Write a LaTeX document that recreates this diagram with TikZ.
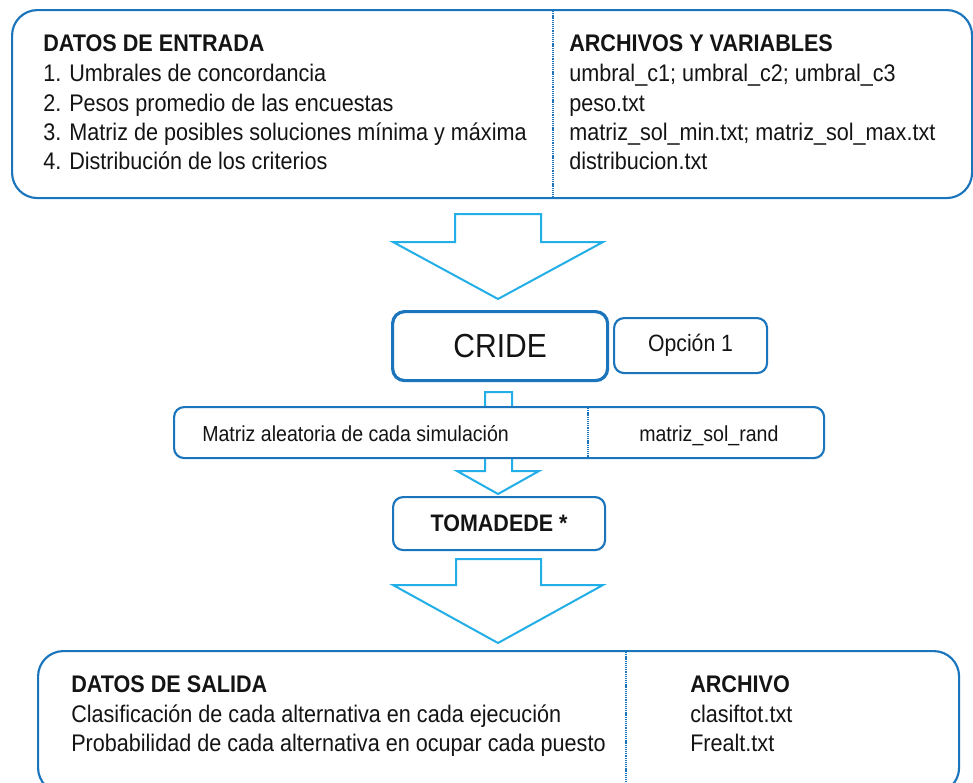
\documentclass[tikz,border=0pt]{standalone}
\usepackage{fontspec}
\setmainfont{Liberation Sans}[FakeStretch=0.9]
\definecolor{boxblue}{HTML}{1B75BC}
\definecolor{arrowcyan}{HTML}{22AEE6}
\definecolor{inkblack}{HTML}{141414}

\begin{document}
\begin{tikzpicture}[x=0.75pt,y=-0.75pt,
  panel/.style={draw=boxblue, line width=1.6pt, fill=white, rounded corners=#1,
    inner sep=0pt, anchor=north west, text=inkblack},
  panel/.default=7.5pt,
  divider/.style={draw=boxblue, line width=0.8pt, dash pattern=on 0.8pt off 0.6pt},
  blockarrow/.style={draw=arrowcyan, line width=1.5pt, fill=white, line join=miter},
  txt/.style={anchor=base west, inner sep=0pt, text=inkblack,
    font=\fontsize{18}{21}\selectfont},
  head/.style={txt, font=\fontsize{18}{21}\selectfont\bfseries},
  small/.style={txt, font=\fontsize{16.3}{19}\selectfont}]

\clip (0,0) rectangle (973,782);

% block arrows (drawn first so the boxes sit on top of them)
\draw[blockarrow] (455,214) -- (541,214) -- (541,242) -- (603,242) -- (498,299)
  -- (393,242) -- (455,242) -- cycle;
\draw[blockarrow] (485,392) -- (512,392) -- (512,471) -- (539,471) -- (498,494)
  -- (457,471) -- (485,471) -- cycle;
\draw[blockarrow] (456,559) -- (541,559) -- (541,585) -- (603,585) -- (498,643)
  -- (393,585) -- (456,585) -- cycle;

% input panel
\node[panel=19pt, minimum width=960*0.75pt, minimum height=188*0.75pt] (input) at (11,9) {};
\coordinate (inSplit) at (553,0);
\draw[divider] (input.north -| inSplit) -- (input.south -| inSplit);

\node[head] (inHead) at (43,51) {DATOS DE ENTRADA};
\node[txt] (inA) at (43,81) {1. Umbrales de concordancia};
\node[txt] (inB) at (43,111) {2. Pesos promedio de las encuestas};
\node[txt] (inC) at (43,140) {3. Matriz de posibles soluciones mínima y máxima};
\node[txt] (inD) at (43,169) {4. Distribución de los criterios};

\node[head] (fileHead) at (569,51) {ARCHIVOS Y VARIABLES};
\node[txt] (fileA) at (569,81) {umbral\_c1; umbral\_c2; umbral\_c3};
\node[txt] (fileB) at (569,111) {peso.txt};
\node[txt] (fileC) at (569,140) {matriz\_sol\_min.txt; matriz\_sol\_max.txt};
\node[txt] (fileD) at (569,169) {distribucion.txt};

% CRIDE and option
\node[panel=9pt, line width=2.4pt, minimum width=215*0.75pt, minimum height=69*0.75pt,
  font=\fontsize{25}{28}\selectfont] (cride) at (391,310) {CRIDE};
\node[panel, minimum width=153*0.75pt, minimum height=55*0.75pt,
  font=\fontsize{17.7}{20}\selectfont] (option) at (613,317) {Opción 1};

% random matrix strip
\node[panel, minimum width=650*0.75pt, minimum height=51*0.75pt] (randm) at (173,406) {};
\coordinate (rmSplit) at (588,0);
\draw[divider] (randm.north -| rmSplit) -- (randm.south -| rmSplit);
\node[small] (rmText) at (202,441) {Matriz aleatoria de cada simulación};
\node[small] (rmFile) at (639,441) {matriz\_sol\_rand};

% TOMADEDE
\node[panel, minimum width=212*0.75pt, minimum height=53*0.75pt,
  font=\fontsize{17.9}{20}\selectfont\bfseries] (toma) at (392,496) {TOMADEDE *};

% output panel
\node[panel=19pt, minimum width=921*0.75pt, minimum height=142*0.75pt] (output) at (37,650) {};
\coordinate (outSplit) at (626,0);
\draw[divider] (output.north -| outSplit) -- (output.south -| outSplit);

\node[head] (outHead) at (71,692) {DATOS DE SALIDA};
\node[txt] (outA) at (71,722) {Clasificación de cada alternativa en cada ejecución};
\node[txt] (outB) at (71,751) {Probabilidad de cada alternativa en ocupar cada puesto};

\node[head] (outFileHead) at (690,692) {ARCHIVO};
\node[txt] (outFileA) at (690,722) {clasiftot.txt};
\node[txt] (outFileB) at (690,751) {Frealt.txt};
\end{tikzpicture}
\end{document}
